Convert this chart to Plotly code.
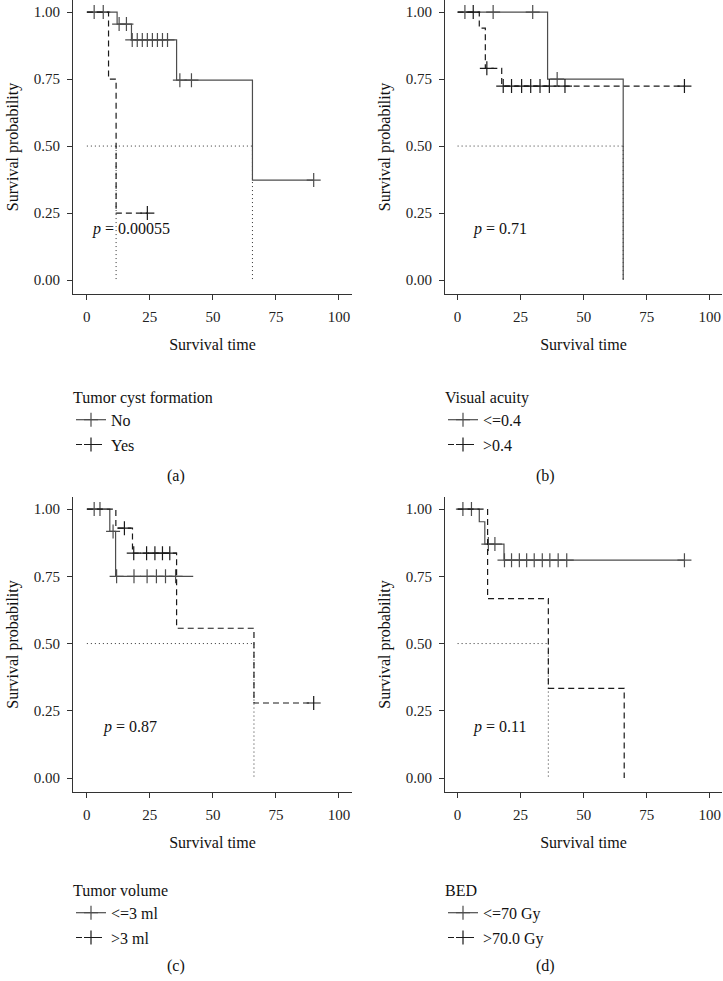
import plotly.graph_objects as go

FONT = "Liberation Serif"
SOLID = "#4d4d4d"
DASHED = "#1a1a1a"
AXIS = "#333333"

# (a) Tumor cyst formation
a_no_t = [0, 12.0, 17.7, 35.6, 65.7, 90.0]
a_no_s = [1.0, 0.955, 0.896, 0.746, 0.373, 0.373]
a_no_cens = [2.9, 6.5, 12.8, 15.7, 18.0, 20.0, 22.0, 24.0, 26.0, 28.0, 30.0, 32.0, 36.9, 41.5, 90.0]
a_yes_t = [0, 8.6, 11.6, 24.0]
a_yes_s = [1.0, 0.75, 0.25, 0.25]
a_yes_cens = [24.0]
a_medians = [11.6, 65.7]

# (b) Visual acuity
b_lo_t = [0, 35.7, 65.7]
b_lo_s = [1.0, 0.75, 0.0]
b_lo_cens = [2.9, 14.1, 29.8, 39.5]
b_hi_t = [0, 8.6, 11.0, 17.5, 90.0]
b_hi_s = [1.0, 0.94, 0.79, 0.724, 0.724]
b_hi_cens = [6.2, 11.6, 18.1, 21.4, 25.4, 29.0, 32.7, 36.4, 42.6, 90.0]
b_medians = [65.7]

# (c) Tumor volume
c_lo_t = [0, 9.1, 11.4, 42.2]
c_lo_s = [1.0, 0.917, 0.75, 0.75]
c_lo_cens = [2.9, 5.2, 10.4, 11.8, 18.7, 23.9, 27.6, 31.2, 35.2]
c_hi_t = [0, 11.5, 18.1, 35.6, 66.3, 90.0]
c_hi_s = [1.0, 0.929, 0.836, 0.557, 0.279, 0.279]
c_hi_cens = [14.9, 18.6, 23.7, 27.0, 30.0, 32.9, 90.0]
c_medians = [66.3]

# (d) BED
d_lo_t = [0, 8.6, 10.8, 18.4, 90.0]
d_lo_s = [1.0, 0.953, 0.87, 0.81, 0.81]
d_lo_cens = [2.1, 5.5, 12.2, 14.8, 18.6, 21.4, 24.5, 27.4, 30.4, 33.6, 36.6, 39.9, 43.3, 90.0]
d_hi_t = [0, 11.9, 36.0, 66.1]
d_hi_s = [1.0, 0.667, 0.333, 0.0]
d_hi_cens = []
d_medians = [36.0]

y_ticks = [0, 0.25, 0.5, 0.75, 1.0]
x_ticks = [0, 25, 50, 75, 100]

W, H = 723, 981


def fx(p):
    return p / W


def fy(p):
    return 1 - p / H


def step_at(ts, ss, c):
    val = ss[0]
    for t, s in zip(ts, ss):
        if t <= c:
            val = s
    return val


fig = go.Figure()

panels = [
    ("", a_no_t, a_no_s, a_no_cens, a_yes_t, a_yes_s, a_yes_cens, a_medians,
     "Tumor cyst formation", "No", "Yes", "0.00055", 1.2, "legend"),
    ("2", b_lo_t, b_lo_s, b_lo_cens, b_hi_t, b_hi_s, b_hi_cens, b_medians,
     "Visual acuity", "&lt;=0.4", "&gt;0.4", "0.71", 5.5, "legend2"),
    ("3", c_lo_t, c_lo_s, c_lo_cens, c_hi_t, c_hi_s, c_hi_cens, c_medians,
     "Tumor volume", "&lt;=3 ml", "&gt;3 ml", "0.87", 5.8, "legend3"),
    ("4", d_lo_t, d_lo_s, d_lo_cens, d_hi_t, d_hi_s, d_hi_cens, d_medians,
     "BED", "&lt;=70 Gy", "&gt;70.0 Gy", "0.11", 5.5, "legend4"),
]

annotations = []
for (k, t1, s1, c1, t2, s2, c2, meds, title, n1, n2, pval, px, leg) in panels:
    xa, ya = "x" + k, "y" + k
    # median lines
    mx = [0, max(meds)]
    my = [0.5, 0.5]
    for m in meds:
        mx += [None, m, m]
        my += [None, 0.5, 0]
    fig.add_trace(go.Scatter(x=mx, y=my, mode="lines", xaxis=xa, yaxis=ya,
                             line=dict(color=AXIS, width=1, dash="1px,3px"),
                             showlegend=False, hoverinfo="skip"))
    for ts, ss, cs, col, dash, name, grp in [
        (t1, s1, c1, SOLID, "solid", n1, "g1"),
        (t2, s2, c2, DASHED, "6px,4px", n2, "g2"),
    ]:
        fig.add_trace(go.Scatter(x=ts, y=ss, mode="lines", xaxis=xa, yaxis=ya,
                                 line=dict(color=col, width=1.2, dash=dash, shape="hv"),
                                 cliponaxis=False, showlegend=False))
        fig.add_trace(go.Scatter(x=cs, y=[step_at(ts, ss, c) for c in cs],
                                 mode="markers", xaxis=xa, yaxis=ya, cliponaxis=False,
                                 marker=dict(symbol="cross-thin", size=10,
                                             line=dict(color=col, width=1.2)),
                                 showlegend=False))
        # legend entry
        fig.add_trace(go.Scatter(x=[None], y=[None], mode="lines+markers",
                                 name=name, legend=leg, legendgroup=k + grp,
                                 line=dict(color=col, width=1.2, dash=dash),
                                 marker=dict(symbol="cross-thin", size=10,
                                             line=dict(color=col, width=1.2))))
    annotations.append(dict(xref=xa, yref=ya, x=px, y=0.19, xanchor="left",
                            yanchor="middle", showarrow=False,
                            text="<i>p</i> = " + pval,
                            font=dict(family=FONT, size=16, color="#111")))

# panel labels
for lab, lx, ly in [("(a)", 176, 476), ("(b)", 545, 476), ("(c)", 176, 966), ("(d)", 545, 966)]:
    annotations.append(dict(xref="paper", yref="paper", x=fx(lx), y=fy(ly),
                            xanchor="center", yanchor="middle", showarrow=False,
                            text=lab, font=dict(family=FONT, size=16, color="#111")))

axis_common = dict(showline=True, linecolor=AXIS, linewidth=1, ticks="outside",
                   ticklen=5, tickcolor=AXIS, showgrid=False, zeroline=False,
                   ticklabeloverflow="allow",
                   tickfont=dict(family=FONT, size=15, color="#222"))

row_dom = [[fy(294), fy(0)], [fy(792), fy(497)]]
row_range = [[-0.052, 1.045], [-0.052, 1.045]]
col_dom = [[fx(73), fx(352)], [fx(445), fx(722)]]
col_range = [[-5.5, 105.2], [-5.0, 104.9]]

layout = dict(width=W, height=H, autosize=False, plot_bgcolor="white",
              paper_bgcolor="white", margin=dict(l=0, r=0, t=0, b=0),
              annotations=annotations)
for i, k in enumerate(["", "2", "3", "4"]):
    r, c = divmod(i, 2)
    layout["xaxis" + k] = dict(axis_common, domain=col_dom[c], range=col_range[c],
                               tickvals=x_ticks, anchor="y" + k,
                               ticklabelstandoff=4,
                               title=dict(text="Survival time", standoff=14,
                                          font=dict(family=FONT, size=16, color="#111")))
    layout["yaxis" + k] = dict(axis_common, domain=row_dom[r],
                               range=row_range[r], tickvals=y_ticks,
                               tickformat=".2f", anchor="x" + k,
                               ticklabelstandoff=4,
                               title=dict(text="Survival probability", standoff=11,
                                          font=dict(family=FONT, size=16, color="#111")))
    leg = "legend" if k == "" else "legend" + k
    layout[leg] = dict(x=fx(71 + 372 * c), y=fy(382 + 493 * r),
                       xanchor="left", yanchor="top", bgcolor="rgba(0,0,0,0)",
                       title=dict(text=panels[i][8], side="top",
                                  font=dict(family=FONT, size=16, color="#111")),
                       font=dict(family=FONT, size=16, color="#111"),
                       traceorder="grouped", tracegroupgap=1, itemwidth=30)

fig.update_layout(**layout)
# drop the browser's default 8px page margin so the figure sits at the top-left corner
fig.write_html("out.html", config={"displayModeBar": False},
               post_script="document.body.style.margin='0';document.body.style.overflow='hidden';")
